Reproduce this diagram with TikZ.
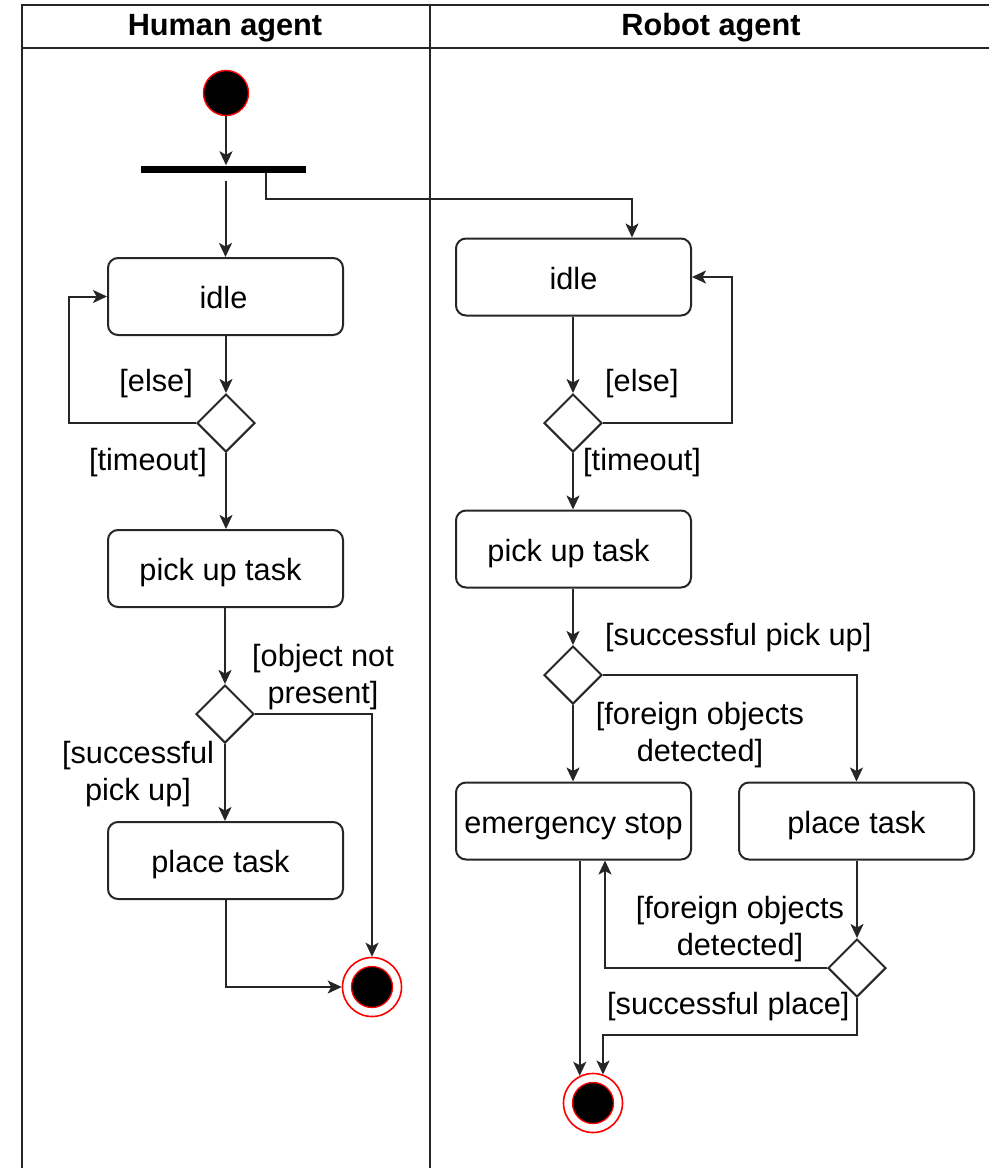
\documentclass[tikz,border=0pt]{standalone}
\usepackage{fontspec}
\setmainfont{Liberation Sans}
\usetikzlibrary{arrows.meta,shapes.geometric,calc}
\begin{document}
\begin{tikzpicture}[x=1pt,y=-1pt,
  font=\fontsize{30.7}{37.5}\selectfont,
  lane/.style={line width=2.6pt,draw=black!85},
  actbox/.style={draw=black!85,line width=2pt,rounded corners=10pt,
    minimum width=235pt,minimum height=77pt,inner sep=0pt,
    text height=25pt,text depth=1pt},
  decision/.style={draw=black!85,line width=2pt,diamond,aspect=1,
    minimum width=58pt,minimum height=58pt,inner sep=0pt},
  startnode/.style={circle,fill=black,draw=red,line width=1.4pt,minimum size=45pt,inner sep=0pt},
  endring/.style={circle,draw=red,line width=1.6pt,minimum size=59pt,inner sep=0pt},
  enddot/.style={circle,fill=black,draw=red,line width=1.3pt,minimum size=41pt,inner sep=0pt},
  forkbar/.style={fill=black,minimum width=165pt,minimum height=7pt,inner sep=0pt},
  guard/.style={inner sep=0pt,align=center},
  arr/.style={draw=black!85,line width=2pt,-{Stealth[length=14pt,width=13pt,inset=3.5pt]}},
  flow/.style={draw=black!85,line width=2pt}]
\useasboundingbox (0,0) rectangle (989,1168);

% swimlanes
\draw[lane] (22,1168) -- (22,5) -- (989,5);
\draw[lane] (22,48) -- (989,48);
\draw[lane] (430,5) -- (430,1168);
\node[font=\fontsize{30.7}{37.5}\selectfont\bfseries] (hhead) at (225,28) {Human agent};
\node[font=\fontsize{30.7}{37.5}\selectfont\bfseries] (rhead) at (711,28) {Robot agent};

% human agent
\node[startnode] (start) at (226,93) {};
\node[forkbar] (fork) at (223.5,169) {};
\node[actbox] (hidle) at (225.5,296.5) {idle\hspace*{4pt}};
\node[decision] (hdec1) at (226,423) {};
\node[actbox] (hpick) at (225.5,568.5) {pick up task\hspace*{10pt}};
\node[decision] (hdec2) at (225,714) {};
\node[actbox] (hplace) at (225.5,860.5) {place task\hspace*{10pt}};
\node[endring] (hend) at (372,987) {};
\node[enddot] (hendin) at (372,987) {};

% robot agent
\node[actbox] (ridle) at (573.5,277) {idle};
\node[decision] (rdec1) at (573,423) {};
\node[actbox] (rpick) at (573.5,549) {pick up task\hspace*{10pt}};
\node[decision] (rdec2) at (573,675) {};
\node[actbox] (rstop) at (573.5,821) {emergency stop};
\node[actbox] (rplace) at (856.5,821) {place task};
\node[decision] (rdec3) at (857,968) {};
\node[endring] (rend) at (593,1103) {};
\node[enddot] (rendin) at (593,1103) {};
\coordinate (rjoin) at (603,1035);

% human flow
\draw[arr] (start.south) -- (start.south |- fork.north);
\draw[arr] ([yshift=-8pt]fork.south -| hidle.north) -- (hidle.north);
\draw[arr] ([xshift=42.5pt]fork.south) |- ([xshift=58.5pt,yshift=39pt]ridle.north) -- ([xshift=58.5pt]ridle.north);
\draw[arr] (hidle.south -| hdec1.north) -- (hdec1.north);
\draw[arr] (hdec1.west) -| ([xshift=-38pt]hidle.west) -- (hidle.west);
\draw[arr] (hdec1.south) -- (hdec1.south |- hpick.north);
\draw[arr] (hpick.south -| hdec2.north) -- (hdec2.north);
\draw[arr] (hdec2.east) -| (hend.north);
\draw[arr] (hdec2.south) -- (hdec2.south |- hplace.north);
\draw[arr] (hplace.south) |- (hend.west);

% robot flow
\draw[arr] (ridle.south -| rdec1.north) -- (rdec1.north);
\draw[arr] (rdec1.east) -| ([xshift=40pt]ridle.east) -- (ridle.east);
\draw[arr] (rdec1.south) -- (rdec1.south |- rpick.north);
\draw[arr] (rpick.south -| rdec2.north) -- (rdec2.north);
\draw[arr] (rdec2.east) -| (rplace.north);
\draw[arr] (rdec2.south) -- (rdec2.south |- rstop.north);
\draw[arr] (rplace.south -| rdec3.north) -- (rdec3.north);
\draw[arr] (rdec3.west) -| ([xshift=31.5pt]rstop.south);
\draw[arr] (rdec3.south) |- (rjoin) -- (rjoin |- rend.70);
\draw[arr] (rend.116 |- rstop.south) -- (rend.116);

% guards
\node[guard,anchor=east] (g1) at (193,384) {[else]};
\node[guard,anchor=east] (g2) at (207,463) {[timeout]};
\node[guard] (g3) at (323,677) {[object not\\present]};
\node[guard] (g4) at (138,774) {[successful\\pick up]};
\node[guard,anchor=west] (g5) at (605,384) {[else]};
\node[guard,anchor=west] (g6) at (583,463) {[timeout]};
\node[guard,anchor=west] (g7) at (605,638) {[successful pick up]};
\node[guard] (g8) at (700,735) {[foreign objects\\detected]};
\node[guard] (g9) at (740,929) {[foreign objects\\detected]};
\node[guard,anchor=west] (g10) at (607,1007) {[successful place]};
\end{tikzpicture}
\end{document}
